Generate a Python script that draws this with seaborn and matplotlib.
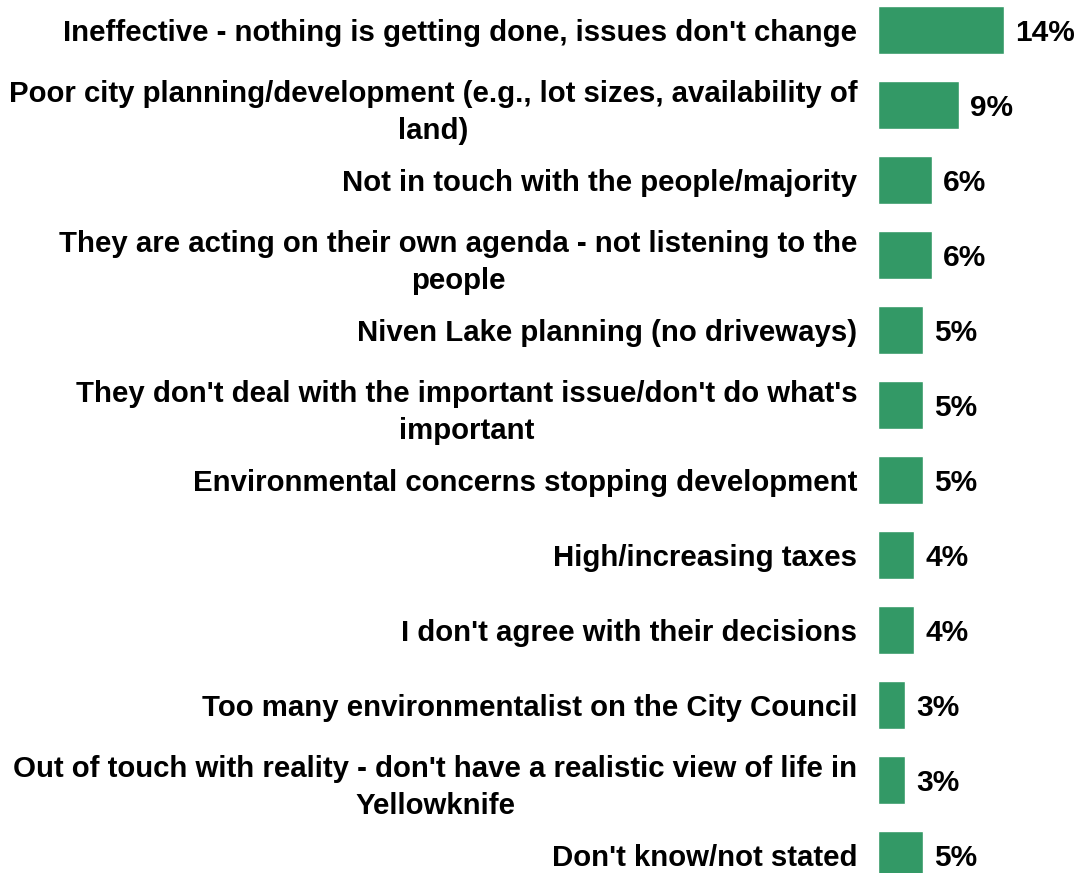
import matplotlib
matplotlib.use("Agg")
import matplotlib.pyplot as plt
import seaborn as sns
import pandas as pd

categories = [
    "Ineffective - nothing is getting done, issues don't change",
    "Poor city planning/development (e.g., lot sizes, availability of\nland)",
    "Not in touch with the people/majority",
    "They are acting on their own agenda - not listening to the\npeople",
    "Niven Lake planning (no driveways)",
    "They don't deal with the important issue/don't do what's\nimportant",
    "Environmental concerns stopping development",
    "High/increasing taxes",
    "I don't agree with their decisions",
    "Too many environmentalist on the City Council",
    "Out of touch with reality - don't have a realistic view of life in\nYellowknife",
    "Don't know/not stated",
]
values = [14, 9, 6, 6, 5, 5, 5, 4, 4, 3, 3, 5]

df = pd.DataFrame({"category": categories, "pct": values})

sns.set_style("white")
plt.rcParams["font.family"] = ["Liberation Sans", "DejaVu Sans"]
plt.rcParams["text.color"] = "black"
plt.rcParams["ytick.color"] = "black"

fig = plt.figure(figsize=(10.81, 8.73), dpi=100)
W, H = 1081, 873
left_px, right_px = 878, 1081
top_px, bottom_px = -7.5, 892.5
ax = fig.add_axes([left_px / W, (H - bottom_px) / H,
                   (right_px - left_px) / W, (bottom_px - top_px) / H])

sns.barplot(data=df, x="pct", y="category", color="#339966",
            saturation=1, width=0.64, ax=ax, orient="h")

ax.set_xlim(0, (right_px - left_px) / 9.0)
ax.set_ylim(len(categories) - 0.5, -0.5)
ax.set_xlabel("")
ax.set_ylabel("")
ax.set_xticks([])
for s in ax.spines.values():
    s.set_visible(False)

ax.tick_params(axis="y", length=0, pad=15)
for lab in ax.get_yticklabels():
    lab.set_fontsize(21.2)
    lab.set_fontweight("bold")
    lab.set_multialignment("center")
    lab.set_linespacing(1.42)
    lab.set_color("black")

for container in ax.containers:
    anns = ax.bar_label(container, labels=[f"{v}%" for v in values], padding=8,
                        fontsize=21.5, fontweight="bold", color="black")
    for a in anns:
        a.set_va("center_baseline")

fig.savefig("out.png", dpi=100)
